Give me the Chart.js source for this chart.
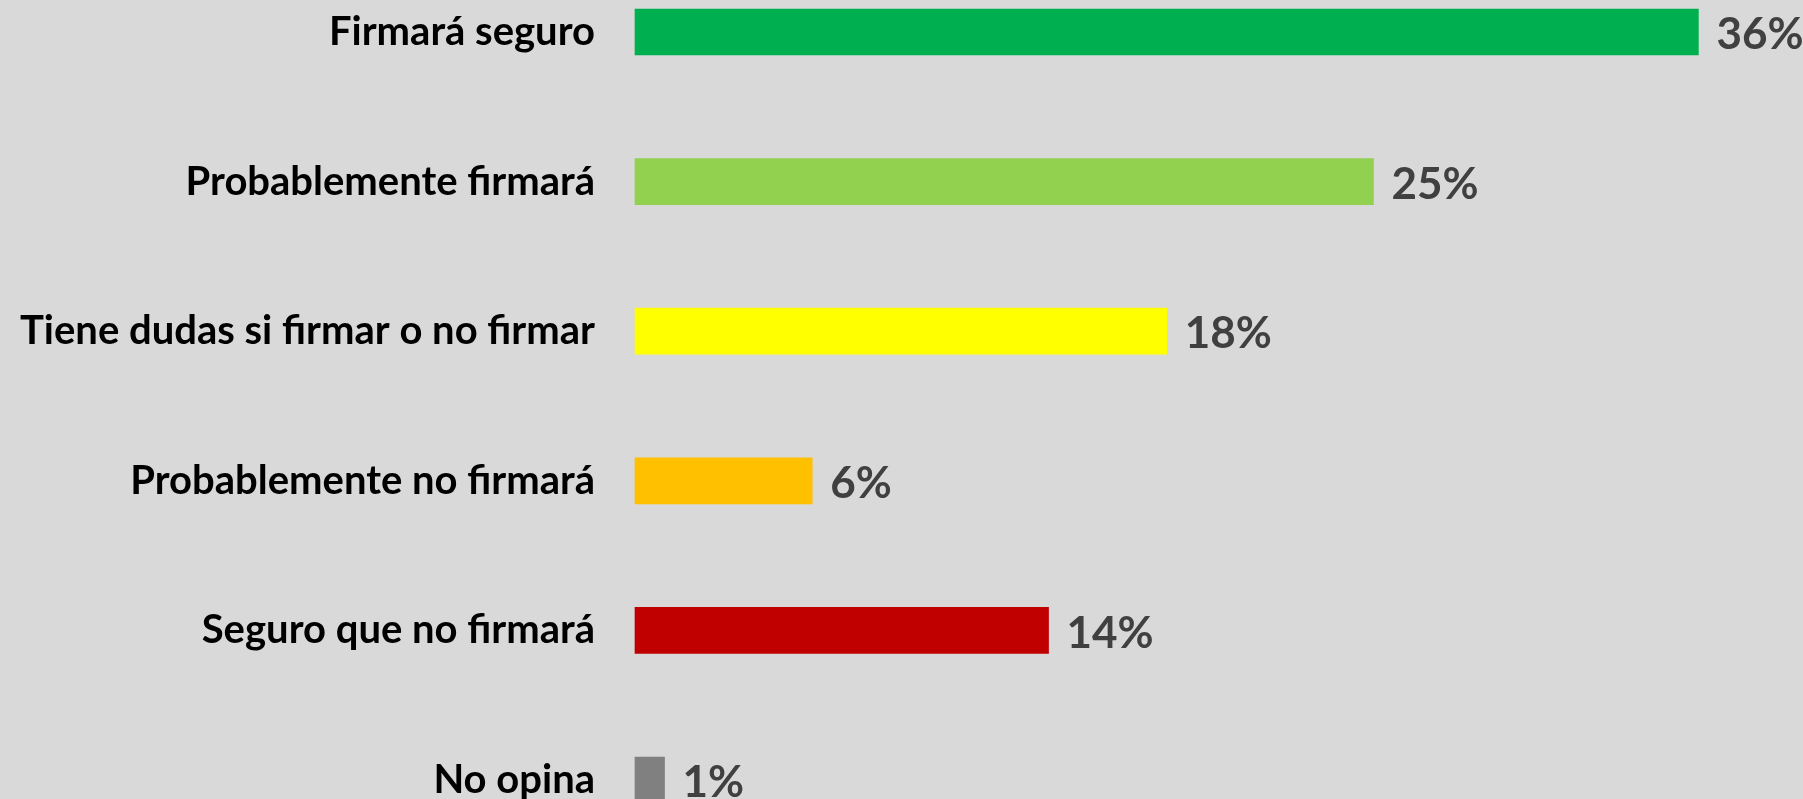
<!DOCTYPE html>
<html>
<head>
<meta charset="utf-8">
<script src="https://cdn.jsdelivr.net/npm/chart.js@4.4.1/dist/chart.umd.min.js"></script>
<style>
    html, body { margin: 0; padding: 0; background: #d9d9d9; overflow: hidden; }
    canvas { display: block; }
</style>
</head>
<body>
<canvas id="intentionChart" width="1803" height="799"></canvas>
<script>
const categories = ['Firmará seguro', 'Probablemente firmará', 'Tiene dudas si firmar o no firmar', 'Probablemente no firmará', 'Seguro que no firmará', 'No opina'];
const percentages = [36, 25, 18, 6, 14, 1];
const barColors = ['#00b050', '#92d050', '#ffff00', '#ffc000', '#c00000', '#808080'];

// value labels to the right of each bar
const valueLabels = {
    id: 'valueLabels',
    afterDatasetsDraw(chart) {
        const ctx = chart.ctx;
        const meta = chart.getDatasetMeta(0);
        ctx.save();
        ctx.font = 'bold 44px Lato, "Open Sans", sans-serif';
        ctx.fillStyle = '#404040';
        ctx.textAlign = 'left';
        ctx.textBaseline = 'middle';
        meta.data.forEach((bar, i) => {
            ctx.fillText(percentages[i] + '%', bar.x + 18, bar.y + 3);
        });
        ctx.restore();
    }
};

const ctx = document.getElementById('intentionChart').getContext('2d');
new Chart(ctx, {
    type: 'bar',
    data: {
        labels: categories,
        datasets: [{
            data: percentages,
            backgroundColor: barColors,
            barThickness: 46,
            clip: false
        }]
    },
    options: {
        indexAxis: 'y',
        responsive: false,
        animation: false,
        layout: { padding: { top: 32, bottom: 19, right: 16, left: 0 } },
        plugins: {
            legend: { display: false },
            tooltip: { enabled: false }
        },
        scales: {
            x: {
                display: false,
                min: 0,
                max: 39
            },
            y: {
                offset: false,
                grid: { display: false, drawTicks: false },
                border: { display: false },
                afterFit(scale) {
                    scale.width = 635;
                    // labels may overflow, don't shrink the plot for them
                    scale.paddingTop = 0;
                    scale.paddingBottom = 0;
                },
                ticks: {
                    padding: 40,
                    color: '#000000',
                    font: { family: 'Lato, "Open Sans", sans-serif', size: 40, weight: 'bold' }
                }
            }
        }
    },
    plugins: [valueLabels]
});
</script>
</body>
</html>
